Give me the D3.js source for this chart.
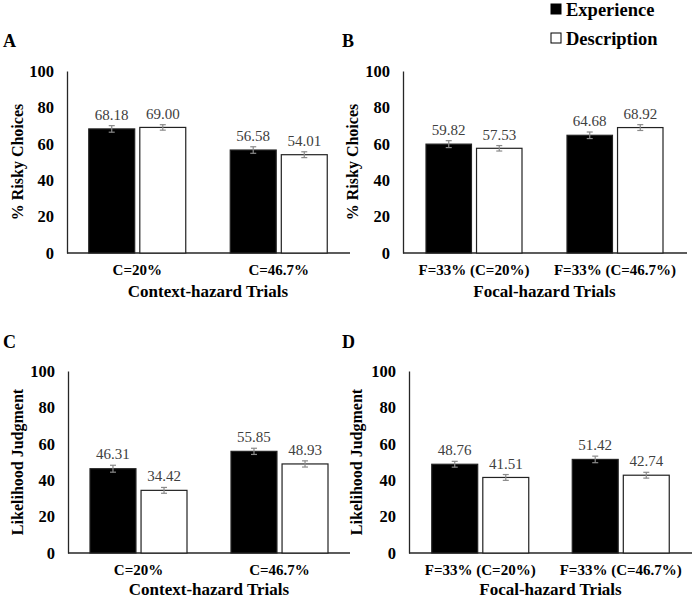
<!DOCTYPE html>
<html><head><meta charset="utf-8">
<script src="https://cdn.jsdelivr.net/npm/d3@7"></script>
<style>body{margin:0;background:#fff}svg{display:block}</style>
</head><body>
<svg id="c" width="692" height="599"></svg>
<script>
const seriesNames = ["Experience", "Description"];
const yTicks = [0, 20, 40, 60, 80, 100];
const catsContext = ["C=20%", "C=46.7%"];
const catsFocal = ["F=33% (C=20%)", "F=33% (C=46.7%)"];
const riskyContextExp = [68.18, 56.58];
const riskyContextDesc = [69.00, 54.01];
const riskyFocalExp = [59.82, 64.68];
const riskyFocalDesc = [57.53, 68.92];
const likeContextExp = [46.31, 55.85];
const likeContextDesc = [34.42, 48.93];
const likeFocalExp = [48.76, 51.42];
const likeFocalDesc = [41.51, 42.74];
const errRiskyContextExp = [1.8, 1.8];
const errRiskyContextDesc = [1.5, 1.6];
const errRiskyFocalExp = [1.9, 1.8];
const errRiskyFocalDesc = [1.5, 1.6];
const errLikeContextExp = [1.9, 1.7];
const errLikeContextDesc = [1.6, 1.7];
const errLikeFocalExp = [1.6, 1.8];
const errLikeFocalDesc = [1.6, 1.6];

const svg = d3.select("#c");
const FONT = "'Liberation Serif','Times New Roman',serif";

const panels = [
  {letter:"A", lx:3, ly:47, x0:67, x1:350, top:71, bot:253, cats:catsContext, exp:riskyContextExp, desc:riskyContextDesc, eE:errRiskyContextExp, eD:errRiskyContextDesc, ytitle:"% Risky Choices", xtitle:"Context-hazard Trials", bars:[[89,186],[231,327]], ytx:17, xt:44},
  {letter:"B", lx:342, ly:47, x0:403, x1:687, top:71, bot:253, cats:catsFocal, exp:riskyFocalExp, desc:riskyFocalDesc, eE:errRiskyFocalExp, eD:errRiskyFocalDesc, ytitle:"% Risky Choices", xtitle:"Focal-hazard Trials", bars:[[426,522],[567,663]], ytx:352, xt:44},
  {letter:"C", lx:3, ly:348, x0:68, x1:350, top:371, bot:553, cats:catsContext, exp:likeContextExp, desc:likeContextDesc, eE:errLikeContextExp, eD:errLikeContextDesc, ytitle:"Likelihood Judgment", xtitle:"Context-hazard Trials", bars:[[90,187],[231,328]], ytx:17, xt:42},
  {letter:"D", lx:342, ly:348, x0:409, x1:692, top:371, bot:553, cats:catsFocal, exp:likeFocalExp, desc:likeFocalDesc, eE:errLikeFocalExp, eD:errLikeFocalDesc, ytitle:"Likelihood Judgment", xtitle:"Focal-hazard Trials", bars:[[432,529],[573,669]], ytx:356, xt:42}
];

panels.forEach(p => {
  const g = svg.append("g");
  const y = d3.scaleLinear().domain([0,100]).range([p.bot, p.top]);
  const gap = (p.bars[1][0]-p.bars[0][1]);
  const x = d3.scaleBand().domain(p.cats).range([p.bars[0][0]-gap/2, p.bars[1][1]+gap/2]).paddingInner(0).paddingOuter(0);
  const gw = p.bars[0][1]-p.bars[0][0];
  const xs = d3.scaleBand().domain(seriesNames).range([0, gw]).paddingInner(0.1);
  const groupStart = c => x(c) + (x.bandwidth()-gw)/2;

  g.append("text").attr("x", p.lx).attr("y", p.ly).text(p.letter)
    .attr("font-family", FONT).attr("font-weight","bold").attr("font-size",18).attr("fill","#000");

  const ya = d3.axisLeft(y).tickValues(yTicks).tickSize(0).tickPadding(13);
  const yg = g.append("g").attr("transform",`translate(${p.x0},0)`).call(ya);
  yg.select(".domain").attr("stroke","#262626").attr("stroke-width",1.3);
  yg.selectAll("text").attr("font-family",FONT).attr("font-weight","bold").attr("font-size",16.5).attr("fill","#000");
  g.append("line").attr("x1",p.x0).attr("x2",p.x1).attr("y1",p.bot).attr("y2",p.bot)
    .attr("stroke","#262626").attr("stroke-width",1.3);

  const rows = p.cats.map((c,i)=>[
    {c, s:"Experience", v:p.exp[i], e:p.eE[i]},
    {c, s:"Description", v:p.desc[i], e:p.eD[i]}
  ]).flat();

  g.selectAll("rect.bar").data(rows).join("rect")
    .attr("x", d=>groupStart(d.c)+xs(d.s))
    .attr("width", xs.bandwidth())
    .attr("y", d=>y(d.v))
    .attr("height", d=>y(0)-y(d.v))
    .attr("fill", d=>d.s==="Experience"?"#000":"#fff")
    .attr("stroke","#222").attr("stroke-width",1.2);

  const eg = g.selectAll("g.err").data(rows).join("g");
  eg.each(function(d){
    const cx = groupStart(d.c)+xs(d.s)+xs.bandwidth()/2;
    const s = d3.select(this);
    const col = "#8a8a8a";
    s.append("line").attr("x1",cx).attr("x2",cx).attr("y1",y(d.v+d.e)).attr("y2",y(d.v-d.e)).attr("stroke",col).attr("stroke-width",1.2);
    [d.v+d.e, d.v-d.e].forEach(t=>{
      s.append("line").attr("x1",cx-3).attr("x2",cx+3).attr("y1",y(t)).attr("y2",y(t)).attr("stroke",col).attr("stroke-width",1.2);
    });
    s.append("text").attr("x",cx).attr("y",y(d.v+d.e)-6).attr("text-anchor","middle")
      .text(d.v.toFixed(2)).attr("font-family",FONT).attr("font-size",15).attr("fill","#404040");
  });

  p.cats.forEach(c=>{
    g.append("text").attr("x", x(c)+x.bandwidth()/2).attr("y", p.bot+22).attr("text-anchor","middle")
      .text(c).attr("font-family",FONT).attr("font-weight","bold").attr("font-size",15).attr("fill","#000");
  });
  g.append("text").attr("x",(p.bars[0][0]+p.bars[1][1])/2).attr("y",p.bot+p.xt).attr("text-anchor","middle")
    .text(p.xtitle).attr("font-family",FONT).attr("font-weight","bold").attr("font-size",17).attr("fill","#000");
  const cy = (p.top+p.bot)/2;
  g.append("text").attr("transform",`translate(${p.ytx},${cy}) rotate(-90)`).attr("text-anchor","middle")
    .attr("dy","0.35em").text(p.ytitle).attr("font-family",FONT).attr("font-weight","bold").attr("font-size",16).attr("fill","#000");
});

const leg = svg.append("g");
seriesNames.forEach((s,i)=>{
  const yy = 4 + i*29;
  leg.append("rect").attr("x",551).attr("y",yy).attr("width",10).attr("height",10)
    .attr("fill", i===0?"#000":"#fff").attr("stroke","#000").attr("stroke-width",1);
  leg.append("text").attr("x",566).attr("y",yy+12).text(s)
    .attr("font-family",FONT).attr("font-weight","bold").attr("font-size",18.5).attr("fill","#000");
});
</script>
</body></html>
